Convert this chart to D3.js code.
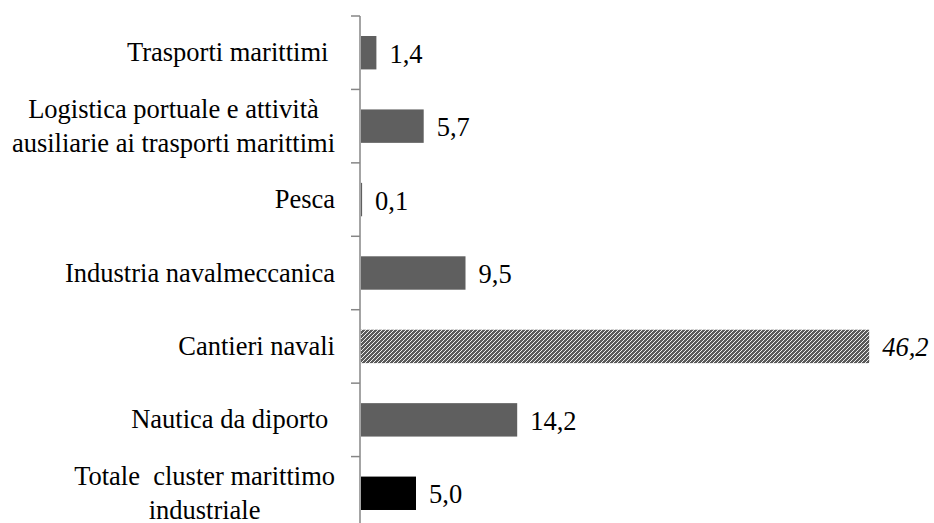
<!DOCTYPE html>
<html>
<head>
<meta charset="utf-8">
<script src="https://cdn.jsdelivr.net/npm/d3@7"></script>
</head>
<body style="margin:0">
<svg id="bars" width="934" height="523"></svg>
<script>
// categories, top to bottom (\n = line break in the label)
var categories = [
    "Trasporti marittimi ",
    "Logistica portuale e attività\nausiliarie ai trasporti marittimi",
    "Pesca",
    "Industria navalmeccanica",
    "Cantieri navali",
    "Nautica da diporto ",
    "Totale  cluster marittimo\nindustriale"
];
var values = [1.4, 5.7, 0.1, 9.5, 46.2, 14.2, 5.0];
var valueLabels = ["1,4", "5,7", "0,1", "9,5", "46,2", "14,2", "5,0"];

var rows = categories.map(function(c, i) { return { cat: c, value: values[i], label: valueLabels[i] }; });

var svg = d3.select("#bars");
var FONT = "Liberation Serif";
var FSIZE = 26.5;

var axisX = 360;
var labelRight = 335;

var x = d3.scaleLinear().domain([0, 50]).range([axisX + 1, axisX + 551]);
var y = d3.scaleBand()
    .domain(categories)
    .range([16, 530])
    .paddingInner(0.545)
    .paddingOuter(0.2725);

// hatch pattern for the highlighted bar
var defs = svg.append("defs");
var pat = defs.append("pattern")
    .attr("id", "hatch")
    .attr("patternUnits", "userSpaceOnUse")
    .attr("width", 4).attr("height", 4);
pat.append("rect").attr("width", 4).attr("height", 4).attr("fill", "#5a5a5a");
pat.append("path")
    .attr("d", "M-1,1 l2,-2 M0,4 l4,-4 M3,5 l2,-2")
    .attr("stroke", "#ffffff")
    .attr("stroke-width", 0.9);

function barFill(d) {
    if (d.cat == "Cantieri navali") return "url(#hatch)";
    if (d.cat.indexOf("Totale") == 0) return "#000000";
    return "#5f5f5f";
}

// bars
svg.selectAll("rect.bar")
    .data(rows)
    .enter()
    .append("rect")
    .attr("class", "bar")
    .attr("x", x(0))
    .attr("y", d => y(d.cat))
    .attr("width", d => x(d.value) - x(0))
    .attr("height", y.bandwidth())
    .attr("fill", barFill);

// axis line + ticks at band boundaries
var step = y.step();
svg.append("line")
    .attr("x1", axisX).attr("x2", axisX)
    .attr("y1", y.range()[0]).attr("y2", y.range()[1])
    .attr("stroke", "#868686").attr("stroke-width", 1.5);

d3.range(categories.length + 1).forEach(function(i) {
    var ty = y.range()[0] + i * step;
    svg.append("line")
        .attr("x1", axisX - 9).attr("x2", axisX)
        .attr("y1", ty).attr("y2", ty)
        .attr("stroke", "#868686").attr("stroke-width", 1.5);
});

// value labels
rows.forEach(function(d) {
    svg.append("text")
        .attr("font-family", FONT)
        .attr("font-size", FSIZE)
        .attr("font-style", d.cat == "Cantieri navali" ? "italic" : "normal")
        .attr("x", x(d.value) + 13)
        .attr("y", y(d.cat) + y.bandwidth() / 2 + 10)
        .text(d.label);
});

// category labels
var lineH = 34;
rows.forEach(function(d) {
    var lines = d.cat.split("\n");
    var cy = y(d.cat) + y.bandwidth() / 2;
    var texts = lines.map(function(l, i) {
        return svg.append("text")
            .attr("font-family", FONT)
            .attr("font-size", FSIZE)
            .attr("y", cy + 8.5 - (lines.length - 1) * lineH / 2 + i * lineH)
            .attr("text-anchor", lines.length == 1 ? "end" : "middle")
            .style("white-space", "pre")
            .text(l);
    });
    if (lines.length == 1) {
        texts[0].attr("x", labelRight);
    } else {
        var maxW = d3.max(texts, t => t.node().getComputedTextLength());
        texts.forEach(t => t.attr("x", labelRight - maxW / 2));
    }
});
</script>
</body>
</html>
